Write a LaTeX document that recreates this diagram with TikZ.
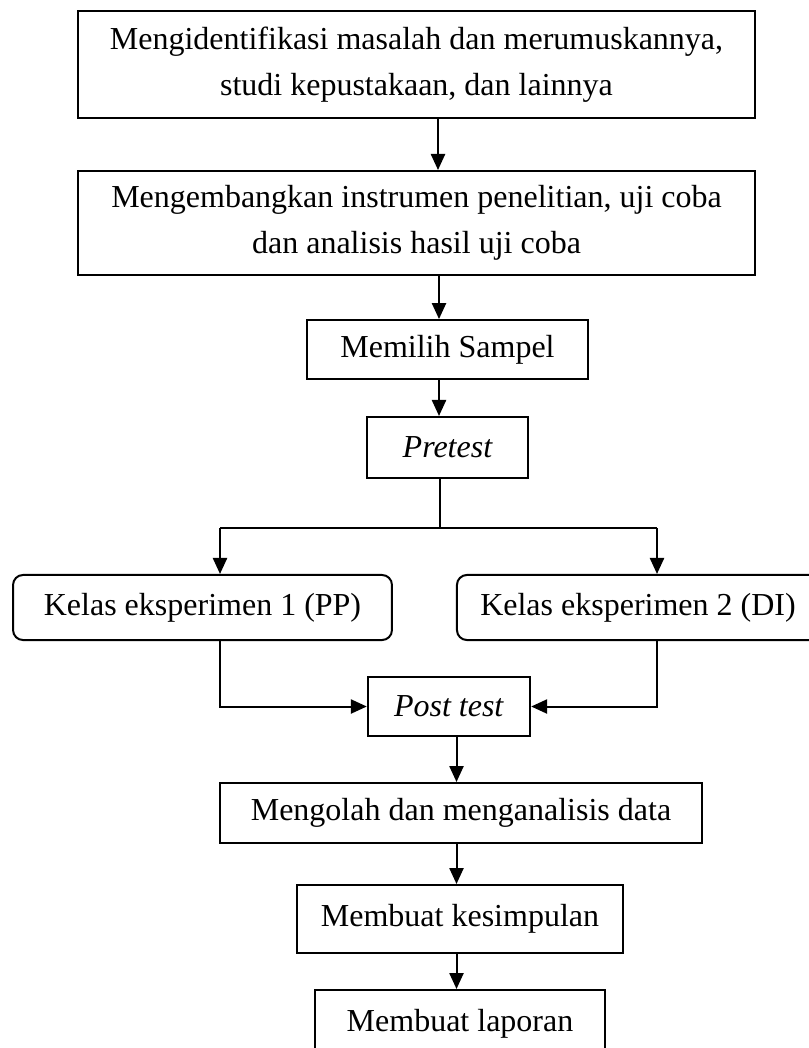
\documentclass[tikz,border=0pt]{standalone}
\usepackage{fontspec}
\setmainfont{Liberation Serif}
\usetikzlibrary{arrows.meta}
\usetikzlibrary{positioning}

\begin{document}
\begin{tikzpicture}[x=0.375pt, y=-0.375pt, line width=0.75pt,
    kotak/.style={draw, inner sep=0pt, align=center, font=\fontsize{12}{17.25}\selectfont},
    kotakr/.style={kotak, rounded corners=3.75pt},
    panah/.style={-{Triangle[length=6pt,width=5.3pt]}}]
			\useasboundingbox (0,0) rectangle (808,1048);

			\node[kotak, minimum width=253.9pt, minimum height=40.1pt] (idt) at (416.5,64.5) {Mengidentifikasi masalah dan merumuskannya,\\ studi kepustakaan, dan lainnya};
			\node[kotak, minimum width=253.9pt, minimum height=39pt] (ins) at (416.5,223) {Mengembangkan instrumen penelitian, uji coba\\ dan analisis hasil uji coba};
			\node[kotak, minimum width=105.4pt, minimum height=22.1pt] (sampel) at (447.5,349.5) {Memilih Sampel};
			\node[kotak, minimum width=60.2pt, minimum height=22.9pt] (pre) at (447.75,447.5) {\textit{Pretest}};
			\node[kotakr, minimum width=142.1pt, minimum height=24.4pt] (eks1) at (202.5,607.5) {Kelas eksperimen 1 (PP)};
			\node[kotakr, minimum width=135.8pt, minimum height=24.4pt] (eks2) at (638,607.5) {Kelas eksperimen 2 (DI)};
			\node[kotak, minimum width=60.9pt, minimum height=22.1pt] (post) at (449,706.5) {\textit{Post test}};
			\node[kotak, minimum width=180.8pt, minimum height=22.5pt] (olah) at (461,813) {Mengolah dan menganalisis data};
			\node[kotak, minimum width=122.3pt, minimum height=25.5pt] (simpul) at (460,919) {Membuat kesimpulan};
			\node[kotak, minimum width=108.6pt, minimum height=25.5pt] (lapor) at (460,1024) {Membuat laporan};

			% jalur panah
			\coordinate (a1) at (438,0);
			\coordinate (a2) at (439,0);
			\coordinate (a3) at (456.5,0);
			\coordinate (cab) at (440,528);
			\coordinate (cabL) at (220,528);
			\coordinate (cabR) at (657,528);

			\draw[panah] (idt.south -| a1) -- (ins.north -| a1);
			\draw[panah] (ins.south -| a2) -- (sampel.north -| a2);
			\draw[panah] (sampel.south -| a2) -- (pre.north -| a2);
			\draw (pre.south -| cab) -- (cab);
			\draw (cabL) -- (cabR);
			\draw[panah] (cabL) -- (eks1.north -| cabL);
			\draw[panah] (cabR) -- (eks2.north -| cabR);
			\draw[panah] (eks1.south -| cabL) |- (post.west);
			\draw[panah] (eks2.south -| cabR) |- (post.east);
			\draw[panah] (post.south -| a3) -- (olah.north -| a3);
			\draw[panah] (olah.south -| a3) -- (simpul.north -| a3);
			\draw[panah] (simpul.south -| a3) -- (lapor.north -| a3);
		\end{tikzpicture}
\end{document}
